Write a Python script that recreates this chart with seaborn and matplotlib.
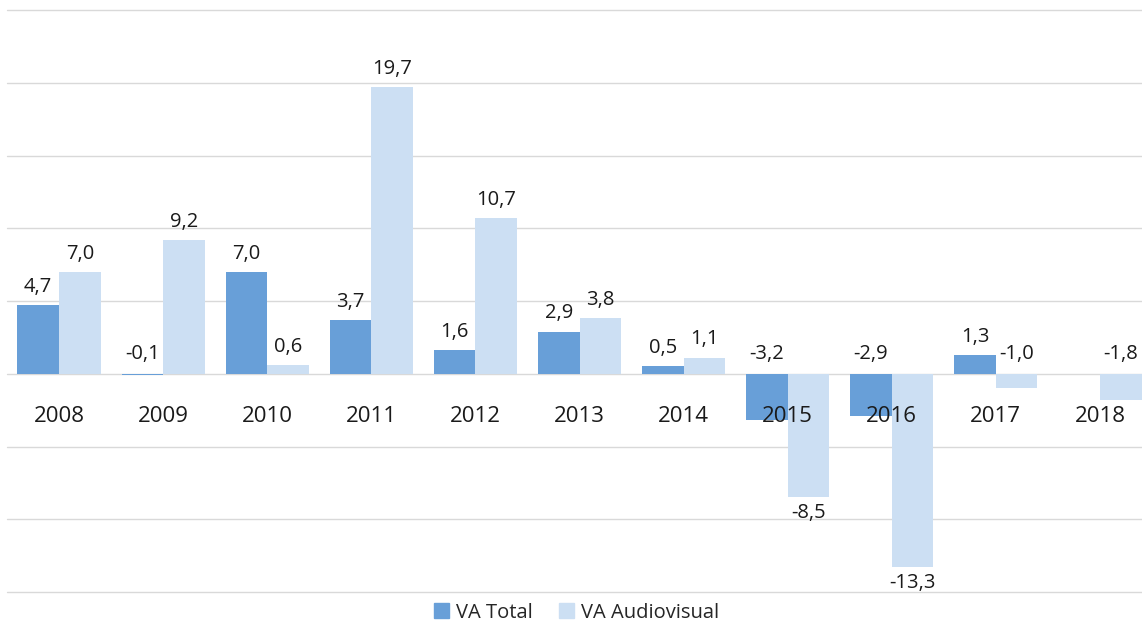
import numpy as np
import pandas as pd
import matplotlib
matplotlib.use("Agg")
import matplotlib.pyplot as plt
import seaborn as sns

years = ["2008", "2009", "2010", "2011", "2012", "2013", "2014", "2015", "2016", "2017", "2018"]
va_total = [4.7, -0.1, 7.0, 3.7, 1.6, 2.9, 0.5, -3.2, -2.9, 1.3, np.nan]
va_audiovisual = [7.0, 9.2, 0.6, 19.7, 10.7, 3.8, 1.1, -8.5, -13.3, -1.0, -1.8]
series = ["VA Total", "VA Audiovisual"]
colors = ["#689FD8", "#CCDFF3"]

df = pd.DataFrame({
    "Year": years * 2,
    "Value": va_total + va_audiovisual,
    "Series": [series[0]] * len(years) + [series[1]] * len(years),
})

sns.set_theme(style="white")
plt.rcParams["font.family"] = ["Open Sans", "DejaVu Sans"]

fig = plt.figure(figsize=(11.42, 6.25), dpi=100)
ax = fig.add_axes([7 / 1142, 33 / 625, 1145 / 1142, 582 / 625])

sns.barplot(data=df, x="Year", y="Value", hue="Series", order=years,
            hue_order=series, palette=colors, width=0.8, saturation=1,
            errorbar=None, ax=ax, legend=True, linewidth=0, edgecolor="none")

ax.set_xlim(-0.5, len(years) - 0.5)
ax.set_ylim(-15, 25)
ax.set_yticks(np.arange(-15, 26, 5))
ax.set_yticklabels([])
ax.set_xticks([])
ax.set_xlabel("")
ax.set_ylabel("")
ax.yaxis.grid(True, color="#D9D9D9", linewidth=1)
for gl in ax.get_ygridlines():
    gl.set_clip_on(False)
ax.set_axisbelow(True)
for s in ax.spines.values():
    s.set_visible(False)

# value labels
for cont in ax.containers:
    for bar in cont:
        h = bar.get_height()
        if np.isnan(h):
            continue
        x = bar.get_x() + bar.get_width() / 2
        txt = f"{h:.1f}".replace(".", ",")
        if h >= 0:
            ax.annotate(txt, (x, h), xytext=(0, 6), textcoords="offset points",
                        ha="center", va="bottom", fontsize=14.5, color="#1a1a1a")
        elif h > -5:
            ax.annotate(txt, (x, 0), xytext=(0, 7), textcoords="offset points",
                        ha="center", va="bottom", fontsize=14.5, color="#1a1a1a")
        else:
            ax.annotate(txt, (x, h), xytext=(0, -4), textcoords="offset points",
                        ha="center", va="top", fontsize=14.5, color="#1a1a1a")

# year labels just below the zero line
for i, y in enumerate(years):
    ax.text(i, -2.95, y, ha="center", va="center", fontsize=16, color="#1a1a1a")

ax.legend_.remove()
handles = [plt.Rectangle((0, 0), 1, 1, color=c) for c in colors]
fig.legend(handles, series, loc="lower center", bbox_to_anchor=(0.505, -0.025),
           ncol=2, frameon=False, fontsize=14.5, handlelength=0.75, handleheight=0.75,
           handletextpad=0.35, columnspacing=1.3)

fig.savefig("out.png", dpi=100)
